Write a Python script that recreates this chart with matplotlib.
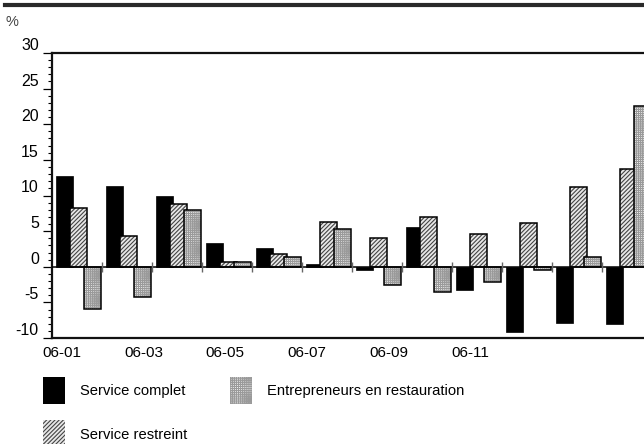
import numpy as np
import matplotlib
matplotlib.use("Agg")
import matplotlib.pyplot as plt
from matplotlib.patches import Patch
from matplotlib.lines import Line2D
from matplotlib.ticker import MultipleLocator

plt.rcParams['font.family'] = ['Liberation Sans', 'DejaVu Sans']
plt.rcParams['axes.unicode_minus'] = False
plt.rcParams['hatch.linewidth'] = 0.8

months = ['06-01', '06-02', '06-03', '06-04', '06-05', '06-06',
          '06-07', '06-08', '06-09', '06-10', '06-11', '06-12']
complet = [12.7, 11.4, 9.9, 3.4, 2.7, 0.4, -0.5, 5.6, -3.3, -9.1, -7.9, -8.1]
restreint = [8.3, 4.3, 8.8, 0.6, 1.8, 6.3, 4.1, 7.0, 4.6, 6.2, 11.2, 13.7]
entrepreneurs = [-5.9, -4.2, 8.0, 0.7, 1.4, 5.3, -2.5, -3.5, -2.1, -0.5, 1.4, 22.6]
xtick_labels = ['06-01', '06-03', '06-05', '06-07', '06-09', '06-11']
legend_labels = ['Service complet', 'Service restreint', 'Entrepreneurs en restauration']

W, H = 644, 444
fig = plt.figure(figsize=(W / 100, H / 100), dpi=100)
ax = fig.add_axes([52 / W, (H - 338) / H, 600 / W, (338 - 53) / H])

x = np.arange(len(months))
bw = 0.33
offs = [-0.25, 0.03, 0.31]

HATCH_R = '////////'
HATCH_E = '++++++++'
COL_R = '#444444'
COL_E = '#9a9a9a'

# Service complet: solid black
ax.bar(x + offs[0], complet, bw, color='black', edgecolor='black', lw=0.5, zorder=3)
# Service restreint: diagonal hatch
ax.bar(x + offs[1], restreint, bw, facecolor='#e8e8e8', edgecolor=COL_R,
       hatch=HATCH_R, lw=0, zorder=3)
ax.bar(x + offs[1], restreint, bw, fill=False, edgecolor='black', lw=1.1, zorder=3.1)
# Entrepreneurs: fine grid
ax.bar(x + offs[2], entrepreneurs, bw, facecolor='#f4f4f4', edgecolor=COL_E,
       hatch=HATCH_E, lw=0, zorder=3.2)
ax.bar(x + offs[2], entrepreneurs, bw, fill=False, edgecolor='black', lw=1.1, zorder=3.3)

ax.set_xlim(-0.5, len(months) - 0.5)
ax.set_ylim(-10, 30)

# zero line and group separators
ax.axhline(0, color='black', lw=1.1, zorder=4)
ax.vlines(x[:-1] + 0.5, -0.7, 0.6, color='#666666', lw=1.0, zorder=4)

for s in ['left', 'top', 'bottom']:
    ax.spines[s].set_linewidth(1.6)
    ax.spines[s].set_color('#111111')
ax.spines['right'].set_visible(False)

ax.yaxis.set_major_locator(MultipleLocator(5))
ax.yaxis.set_minor_locator(MultipleLocator(1))
ax.tick_params(axis='y', which='major', length=6.5, width=0.9, pad=3, labelsize=11.5)
ax.tick_params(axis='y', which='minor', length=3, width=0.8)
for lab in ax.get_yticklabels():
    lab.set_verticalalignment('bottom')

tick_pos = np.arange(len(xtick_labels)) * 1.632 - 0.3
ax.set_xticks(tick_pos)
ax.set_xticklabels(xtick_labels)
ax.tick_params(axis='x', length=0, pad=6, labelsize=11)

# top rule and unit label
fig.add_artist(Line2D([5 / W, 1.0], [1 - 5.3 / H, 1 - 5.3 / H], transform=fig.transFigure,
                      color='#2a2a2a', lw=3.0))
fig.text(5 / W, 1 - 22.5 / H, '%', fontsize=10.5, color='#444444', va='center', ha='left')

handles = [
    Patch(facecolor='black', edgecolor='black', lw=0),
    Patch(facecolor='#e8e8e8', edgecolor=COL_R, hatch=HATCH_R, lw=0),
    Patch(facecolor='#f4f4f4', edgecolor=COL_E, hatch=HATCH_E, lw=0),
]
fs = 10.6
fig.legend(handles, legend_labels, loc='upper left', ncol=2,
           bbox_to_anchor=(43 / W, 1 - 376.5 / H), frameon=False, fontsize=fs,
           borderpad=0, borderaxespad=0, handlelength=1.5, handleheight=2.45,
           handletextpad=1.0, columnspacing=2.9, labelspacing=1.15)

fig.savefig('out.png', dpi=100)
